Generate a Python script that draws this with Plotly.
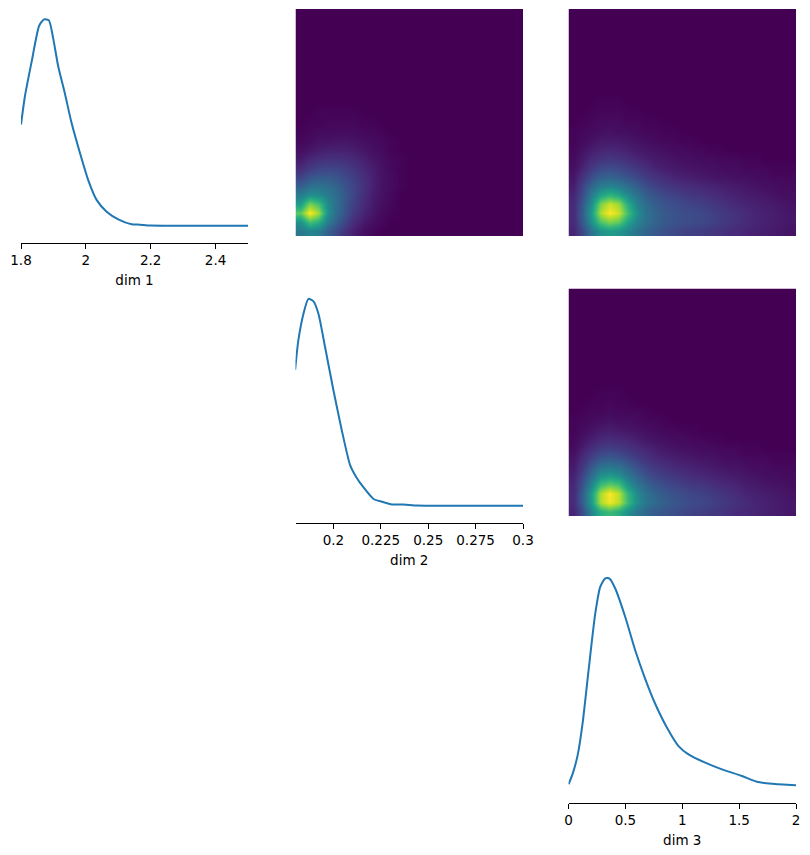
import numpy as np
import plotly.graph_objects as go

# ---------------- data ----------------
dim_labels = ["dim 1", "dim 2", "dim 3"]
dim_limits = [[1.8, 2.5], [0.18, 0.3], [0.0, 2.0]]
tick_vals = [[1.8, 2.0, 2.2, 2.4], [0.2, 0.225, 0.25, 0.275, 0.3], [0, 0.5, 1, 1.5, 2]]
tick_text = [["1.8", "2", "2.2", "2.4"], ["0.2", "0.225", "0.25", "0.275", "0.3"], ["0", "0.5", "1", "1.5", "2"]]

# marginal densities (relative units)
d1_x = [1.8, 1.812, 1.833, 1.856, 1.871, 1.886, 1.899, 1.915, 1.935, 1.956, 1.982, 2.007, 2.033, 2.064,
        2.1, 2.141, 2.166, 2.2, 2.3, 2.4, 2.5]
d1_y = [0.49, 0.626, 0.796, 0.969, 1.0, 0.995, 0.91, 0.77, 0.643, 0.497, 0.351, 0.222, 0.125, 0.068,
        0.031, 0.007, 0.005, 0.001, 0.0, 0.0, 0.0]

d2_x = [0.1798, 0.1815, 0.1842, 0.1868, 0.1895, 0.1921, 0.1956, 0.2, 0.2044, 0.2088, 0.212, 0.2159,
        0.2212, 0.2256, 0.2309, 0.237, 0.244, 0.26, 0.28, 0.3]
d2_y = [0.657, 0.799, 0.928, 1.0, 0.988, 0.928, 0.767, 0.558, 0.365, 0.196, 0.139, 0.088,
        0.032, 0.019, 0.006, 0.006, 0.001, 0.0, 0.0, 0.0]

d3_x = [0.0, 0.035, 0.082, 0.123, 0.176, 0.235, 0.279, 0.323, 0.361, 0.411, 0.499, 0.587, 0.675, 0.763,
        0.865, 0.967, 1.055, 1.202, 1.349, 1.525, 1.657, 1.789, 2.0]
d3_y = [0.01, 0.058, 0.154, 0.299, 0.556, 0.83, 0.959, 1.0, 0.999, 0.951, 0.814, 0.653, 0.516, 0.396,
        0.283, 0.194, 0.154, 0.114, 0.082, 0.05, 0.022, 0.013, 0.006]

# 2-D histograms (25 x 25 bins, rows listed bottom -> top, missing entries are 0)
hist_12 = [
    [0.40, 0.45, 0.42, 0.30, 0.22, 0.14, 0.08, 0.04, 0.02],
    [0.50, 0.70, 0.62, 0.42, 0.30, 0.20, 0.12, 0.07, 0.04, 0.02],
    [0.75, 1.00, 0.85, 0.50, 0.35, 0.25, 0.16, 0.10, 0.06, 0.03, 0.01],
    [0.55, 0.80, 0.70, 0.48, 0.36, 0.26, 0.18, 0.12, 0.07, 0.04, 0.02],
    [0.42, 0.50, 0.48, 0.42, 0.35, 0.27, 0.20, 0.13, 0.08, 0.05, 0.02],
    [0.30, 0.36, 0.38, 0.36, 0.31, 0.25, 0.20, 0.14, 0.09, 0.05, 0.03, 0.01],
    [0.20, 0.26, 0.28, 0.28, 0.26, 0.22, 0.18, 0.13, 0.09, 0.05, 0.03, 0.01],
    [0.12, 0.17, 0.20, 0.21, 0.20, 0.18, 0.15, 0.11, 0.08, 0.05, 0.02, 0.01],
    [0.07, 0.11, 0.13, 0.14, 0.14, 0.13, 0.11, 0.09, 0.06, 0.04, 0.02, 0.01],
    [0.04, 0.06, 0.08, 0.09, 0.09, 0.09, 0.08, 0.06, 0.04, 0.03, 0.01],
    [0.02, 0.03, 0.05, 0.05, 0.06, 0.06, 0.05, 0.04, 0.03, 0.02, 0.01],
    [0.01, 0.02, 0.03, 0.03, 0.03, 0.03, 0.03, 0.02, 0.02, 0.01],
    [0.0, 0.01, 0.01, 0.02, 0.02, 0.02, 0.02, 0.01, 0.01],
    [0.0, 0.0, 0.01, 0.01, 0.01, 0.01, 0.01],
]
hist_13 = [
    [0.10, 0.22, 0.38, 0.50, 0.55, 0.52, 0.45, 0.38, 0.32, 0.28, 0.25, 0.22, 0.20, 0.19, 0.18, 0.16, 0.15, 0.13, 0.12, 0.10, 0.09, 0.08, 0.07, 0.06, 0.05],
    [0.12, 0.28, 0.50, 0.72, 0.80, 0.75, 0.58, 0.45, 0.37, 0.32, 0.28, 0.26, 0.24, 0.23, 0.22, 0.20, 0.18, 0.16, 0.14, 0.12, 0.10, 0.09, 0.08, 0.07, 0.06],
    [0.12, 0.30, 0.55, 0.88, 1.00, 0.92, 0.70, 0.50, 0.38, 0.32, 0.28, 0.26, 0.24, 0.23, 0.22, 0.20, 0.18, 0.16, 0.14, 0.12, 0.10, 0.09, 0.08, 0.07, 0.06],
    [0.12, 0.28, 0.50, 0.80, 0.92, 0.85, 0.62, 0.45, 0.35, 0.30, 0.26, 0.24, 0.22, 0.20, 0.19, 0.17, 0.15, 0.13, 0.11, 0.10, 0.09, 0.08, 0.07, 0.06, 0.05],
    [0.10, 0.24, 0.42, 0.58, 0.65, 0.60, 0.48, 0.38, 0.30, 0.26, 0.22, 0.20, 0.18, 0.16, 0.15, 0.13, 0.12, 0.10, 0.09, 0.08, 0.07, 0.06, 0.05, 0.04, 0.04],
    [0.08, 0.20, 0.33, 0.42, 0.45, 0.42, 0.36, 0.30, 0.24, 0.20, 0.17, 0.15, 0.13, 0.12, 0.11, 0.10, 0.09, 0.08, 0.07, 0.06, 0.05, 0.04, 0.04, 0.03, 0.03],
    [0.06, 0.15, 0.24, 0.30, 0.32, 0.30, 0.26, 0.22, 0.18, 0.15, 0.12, 0.10, 0.09, 0.08, 0.07, 0.06, 0.05, 0.05, 0.04, 0.04, 0.03, 0.03, 0.02, 0.02, 0.02],
    [0.04, 0.10, 0.17, 0.22, 0.23, 0.22, 0.19, 0.16, 0.13, 0.10, 0.08, 0.07, 0.06, 0.05, 0.05, 0.04, 0.04, 0.03, 0.03, 0.02, 0.02, 0.02, 0.01, 0.01, 0.01],
    [0.03, 0.07, 0.12, 0.15, 0.16, 0.15, 0.13, 0.11, 0.09, 0.07, 0.06, 0.05, 0.04, 0.04, 0.03, 0.03, 0.02, 0.02, 0.02, 0.01, 0.01],
    [0.02, 0.05, 0.08, 0.10, 0.11, 0.10, 0.09, 0.07, 0.06, 0.05, 0.04, 0.03, 0.03, 0.02, 0.02, 0.01, 0.01],
    [0.01, 0.03, 0.05, 0.07, 0.07, 0.07, 0.06, 0.05, 0.04, 0.03, 0.02, 0.02, 0.01, 0.01],
    [0.01, 0.02, 0.03, 0.04, 0.05, 0.04, 0.04, 0.03, 0.02, 0.02, 0.01, 0.01],
    [0.0, 0.01, 0.02, 0.03, 0.03, 0.03, 0.02, 0.02, 0.01, 0.01],
    [0.0, 0.0, 0.01, 0.02, 0.02, 0.02, 0.01, 0.01],
    [0.0, 0.0, 0.0, 0.01, 0.01, 0.01],
]
hist_23 = [
    [0.10, 0.24, 0.45, 0.62, 0.68, 0.62, 0.50, 0.40, 0.33, 0.29, 0.26, 0.24, 0.22, 0.20, 0.19, 0.17, 0.16, 0.14, 0.12, 0.11, 0.10, 0.09, 0.08, 0.07, 0.06],
    [0.12, 0.30, 0.55, 0.88, 0.98, 0.90, 0.68, 0.50, 0.40, 0.34, 0.30, 0.27, 0.25, 0.23, 0.22, 0.20, 0.18, 0.16, 0.14, 0.12, 0.10, 0.09, 0.08, 0.07, 0.06],
    [0.12, 0.30, 0.55, 0.88, 1.00, 0.90, 0.66, 0.48, 0.38, 0.32, 0.28, 0.25, 0.23, 0.21, 0.20, 0.18, 0.16, 0.14, 0.12, 0.10, 0.09, 0.08, 0.07, 0.06, 0.05],
    [0.11, 0.26, 0.46, 0.68, 0.75, 0.70, 0.52, 0.40, 0.32, 0.27, 0.23, 0.21, 0.19, 0.17, 0.16, 0.14, 0.12, 0.11, 0.10, 0.08, 0.07, 0.06, 0.05, 0.05, 0.04],
    [0.09, 0.21, 0.36, 0.50, 0.54, 0.50, 0.40, 0.32, 0.25, 0.21, 0.18, 0.16, 0.14, 0.12, 0.11, 0.10, 0.09, 0.08, 0.07, 0.06, 0.05, 0.04, 0.04, 0.03, 0.03],
    [0.07, 0.16, 0.27, 0.36, 0.38, 0.36, 0.30, 0.24, 0.19, 0.16, 0.13, 0.11, 0.10, 0.09, 0.08, 0.07, 0.06, 0.05, 0.05, 0.04, 0.03, 0.03, 0.02, 0.02, 0.02],
    [0.05, 0.12, 0.19, 0.25, 0.27, 0.25, 0.21, 0.17, 0.14, 0.11, 0.09, 0.08, 0.07, 0.06, 0.05, 0.05, 0.04, 0.03, 0.03, 0.02, 0.02, 0.02, 0.01, 0.01, 0.01],
    [0.03, 0.08, 0.13, 0.17, 0.18, 0.17, 0.15, 0.12, 0.10, 0.08, 0.06, 0.05, 0.04, 0.04, 0.03, 0.03, 0.02, 0.02, 0.02, 0.01, 0.01],
    [0.02, 0.05, 0.08, 0.11, 0.12, 0.11, 0.10, 0.08, 0.06, 0.05, 0.04, 0.03, 0.03, 0.02, 0.02, 0.01, 0.01],
    [0.01, 0.03, 0.05, 0.07, 0.08, 0.07, 0.06, 0.05, 0.04, 0.03, 0.02, 0.02, 0.01, 0.01],
    [0.01, 0.02, 0.03, 0.04, 0.05, 0.04, 0.04, 0.03, 0.02, 0.02, 0.01],
    [0.0, 0.01, 0.02, 0.02, 0.03, 0.02, 0.02, 0.02, 0.01],
    [0.0, 0.0, 0.01, 0.01, 0.02, 0.01, 0.01],
    [0.0, 0.0, 0.0, 0.01, 0.01, 0.01],
]
N_BINS = 25

# ---------------- layout helpers ----------------
W, H = 810, 855
col_px = [(21, 248), (295.5, 523), (568.5, 796)]
row_px = [(9, 236), (288.5, 516), (568, 795.5)]
SPINE_OFFSET = 7
LINE_COLOR = "#1f77b4"
FONT = dict(family="DejaVu Sans", size=13.5, color="black")


def xdom(c):
    return [col_px[c][0] / W, col_px[c][1] / W]


def ydom(r):
    return [1 - row_px[r][1] / H, 1 - row_px[r][0] / H]


def pad_grid(rows):
    z = np.zeros((N_BINS, N_BINS))
    for j, row in enumerate(rows):
        z[j, :len(row)] = row
    return z


def centers(lim):
    edges = np.linspace(lim[0], lim[1], N_BINS + 1)
    return 0.5 * (edges[:-1] + edges[1:])


fig = go.Figure()
layout = dict(width=W, height=H, margin=dict(l=0, r=0, t=0, b=0, autoexpand=False),
              paper_bgcolor="white", plot_bgcolor="white", showlegend=False, font=FONT)

diag = {0: (d1_x, d1_y), 1: (d2_x, d2_y), 2: (d3_x, d3_y)}
heat = {(0, 1): hist_12, (0, 2): hist_13, (1, 2): hist_23}

k = 0
for r in range(3):
    for c in range(r, 3):
        k += 1
        xa = "x" if k == 1 else f"x{k}"
        ya = "y" if k == 1 else f"y{k}"
        xkey = "xaxis" if k == 1 else f"xaxis{k}"
        ykey = "yaxis" if k == 1 else f"yaxis{k}"
        if r == c:
            xs, ys = diag[r]
            fig.add_trace(go.Scatter(x=xs, y=ys, mode="lines", xaxis=xa, yaxis=ya,
                                     line=dict(color=LINE_COLOR, width=2, shape="spline", smoothing=0.6),
                                     hoverinfo="skip"))
            lo, hi = min(ys), max(ys)
            pad = 0.05 * (hi - lo)
            layout[xkey] = dict(domain=xdom(c), range=dim_limits[r], anchor="free",
                                position=1 - (row_px[r][1] + SPINE_OFFSET) / H,
                                showline=True, linecolor="black", linewidth=1.1,
                                ticks="outside", ticklen=5, tickwidth=1.1, tickcolor="black",
                                tickvals=tick_vals[r], ticktext=tick_text[r],
                                showgrid=False, zeroline=False, automargin=False,
                                title=dict(text=dim_labels[r], font=FONT, standoff=8),
                                tickfont=FONT)
            layout[ykey] = dict(domain=ydom(r), range=[lo - pad, hi + pad], anchor=xa,
                                visible=False, showgrid=False, zeroline=False, automargin=False)
        else:
            z = pad_grid(heat[(r, c)])
            fig.add_trace(go.Heatmap(z=z, x=centers(dim_limits[c]), y=centers(dim_limits[r]),
                                     xaxis=xa, yaxis=ya, colorscale="Viridis", zmin=0, zmax=1,
                                     showscale=False, zsmooth="best", hoverinfo="skip"))
            layout[xkey] = dict(domain=xdom(c), range=dim_limits[c], anchor=ya, visible=False,
                                showgrid=False, zeroline=False, automargin=False)
            layout[ykey] = dict(domain=ydom(r), range=dim_limits[r], anchor=xa, visible=False,
                                showgrid=False, zeroline=False, automargin=False)

fig.update_layout(**layout)
fig.write_html("out.html")
